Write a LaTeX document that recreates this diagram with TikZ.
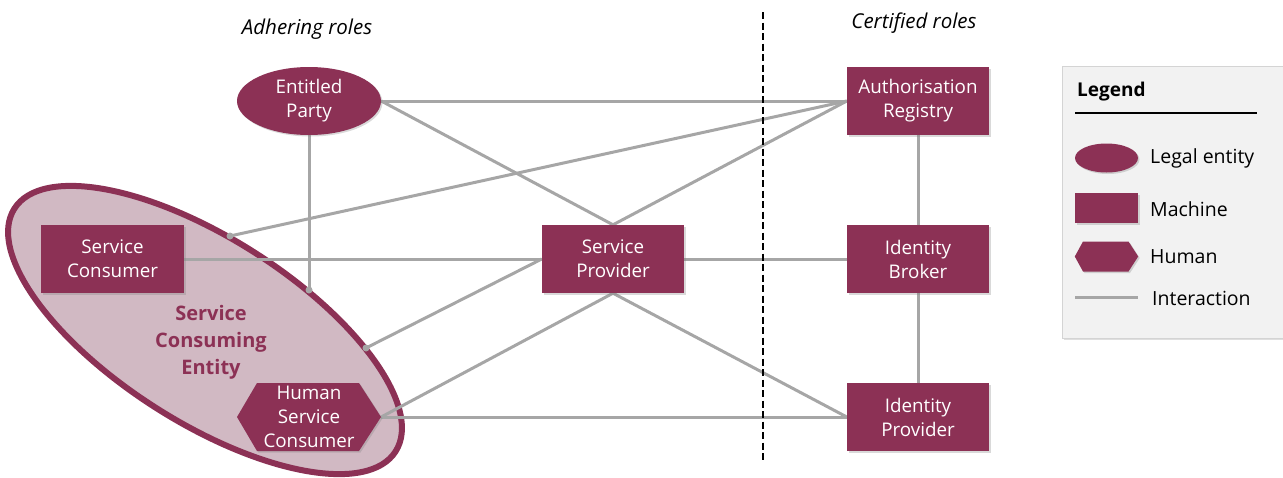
\documentclass[tikz,border=0pt]{standalone}
\usepackage{fontspec}
\setmainfont{Open Sans}
\usetikzlibrary{shapes.geometric,shadows,backgrounds}
\definecolor{maroon}{RGB}{140,49,85}
\definecolor{entityfill}{RGB}{209,185,195}
\definecolor{linegrey}{RGB}{166,166,166}
\definecolor{legendbg}{RGB}{242,242,242}
\definecolor{legendborder}{RGB}{212,212,212}
\begin{document}
\begin{tikzpicture}[x=1pt,y=-1pt,
  shade/.style={drop shadow={shadow xshift=1.5pt,shadow yshift=-1.5pt,opacity=0.3}},
  box/.style={rectangle, fill=maroon, text=white, minimum width=142pt, minimum height=68pt,
    align=center, inner sep=0pt, font=\fontsize{18.8}{24}\selectfont, shade},
  oval/.style={ellipse, fill=maroon, text=white, minimum width=144pt, minimum height=68pt,
    align=center, inner sep=0pt, font=\fontsize{18.8}{24}\selectfont, shade},
  hexlabel/.style={rectangle, text=white, minimum width=144pt, minimum height=68pt,
    align=center, inner sep=0pt, font=\fontsize{18.8}{24}\selectfont},
  link/.style={draw=linegrey, line width=3pt},
  legtext/.style={anchor=west, inner sep=0pt, font=\fontsize{19.5}{22}\selectfont},
  header/.style={font=\itshape\fontsize{20.5}{24}\selectfont, inner sep=0pt}
]
\useasboundingbox (0,0) rectangle (1283,477);

% headers
\node[header] (adh) at (307,29) {Adhering roles};
\node[header] (cert) at (914,23) {Certified roles};

% nodes
\node[oval] (ep) at (309,101) {Entitled\\Party};
\node[box] (ar) at (918,101) {Authorisation\\Registry};
\node[box] (ib) at (918,259) {Identity\\Broker};
\node[box] (ip) at (918,417) {Identity\\Provider};
\node[box] (sp) at (613,259) {Service\\Provider};

% connector end points on the entity border
\coordinate (d1) at (230,236);
\coordinate (d2) at (309,290);
\coordinate (d3) at (366,348);

\begin{pgfonlayer}{background}
  \path[draw=maroon, fill=entityfill, line width=6pt, rotate around={-32.5:(205,330)}]
    (205,330) ellipse [x radius=226, y radius=92];
  \draw[link] (ep.east) -- (ar.west);
  \draw[link] (ep.east) -- (sp.north);
  \draw[link] (ar.west) -- (d1);
  \draw[link] (ar.west) -- (sp.north);
  \draw[link] (sp.east) -- (ib.west);
  \draw[link] (d3) -- (sp.west);
  \draw[link] (sp.south) -- (ip.west);
  \draw[link] (ep.south) -- (d2);
  \draw[link] (ar.south) -- (ib.north);
  \draw[link] (ib.south) -- (ip.north);
  \fill[linegrey] (d1) circle (3.5);
  \fill[linegrey] (d2) circle (3.5);
  \fill[linegrey] (d3) circle (3.5);
\end{pgfonlayer}

\node[box, minimum width=143pt] (sc) at (112.5,259) {Service\\Consumer};
\node[hexlabel] (hsc) at (309,417) {};
\fill[maroon, shade] ([shift={(-72,0)}]hsc.center) -- ([shift={(-52,-34)}]hsc.center)
  -- ([shift={(50,-34)}]hsc.center) -- ([shift={(72,0)}]hsc.center)
  -- ([shift={(50,34)}]hsc.center) -- ([shift={(-52,34)}]hsc.center) -- cycle;
\node[hexlabel] (hsct) at (hsc.center) {Human\\Service\\Consumer};

\begin{pgfonlayer}{background}
  \draw[link] (sc.east) -- (sp.west);
  \draw[link] (hsc.east) -- (sp.south);
  \draw[link] (hsc.east) -- (ip.west);
\end{pgfonlayer}

\node[text=maroon, align=center, inner sep=0pt, font=\bfseries\fontsize{20}{27}\selectfont]
  (sce) at (211,342) {Service\\Consuming\\Entity};

% divider
\coordinate (dtop) at (763,12);
\coordinate (dbot) at (763,462);
\draw[black, line width=2.4pt, dash pattern=on 7pt off 3.5pt] (dtop) -- (dbot);

% legend
\node[draw=legendborder, fill=legendbg, line width=1pt, minimum width=232pt, minimum height=272pt,
  inner sep=0pt, drop shadow={shadow xshift=1.5pt,shadow yshift=-2pt,opacity=0.25}]
  (leg) at (1178,202) {};
\node[anchor=west, inner sep=0pt, font=\bfseries\fontsize{19}{22}\selectfont] (legt) at (1077,92) {Legend};
\coordinate (ul1) at (1075,113);
\coordinate (ul2) at (1257,113);
\draw[line width=1.5pt] (ul1) -- (ul2);
\node[ellipse, fill=maroon, minimum width=63pt, minimum height=29pt, inner sep=0pt, shade] (le) at (1106.5,158) {};
\node[rectangle, fill=maroon, minimum width=63pt, minimum height=30pt, inner sep=0pt, shade] (lm) at (1106.5,208) {};
\node[rectangle, minimum width=63pt, minimum height=30pt, inner sep=0pt] (lh) at (1106.5,256.5) {};
\fill[maroon, shade] (lh.west) -- ([shift={(-23.5,-15)}]lh.center) -- ([shift={(22,-15)}]lh.center)
  -- (lh.east) -- ([shift={(22,15)}]lh.center) -- ([shift={(-23.5,15)}]lh.center) -- cycle;
\coordinate (li1) at (1075,297);
\coordinate (li2) at (1138,297);
\draw[link] (li1) -- (li2);
\node[legtext] (tle) at (1150,158) {Legal entity};
\node[legtext] (tlm) at (1150,209) {Machine};
\node[legtext] (tlh) at (1150,257) {Human};
\node[legtext] (tli) at (1152,298) {Interaction};
\end{tikzpicture}
\end{document}
